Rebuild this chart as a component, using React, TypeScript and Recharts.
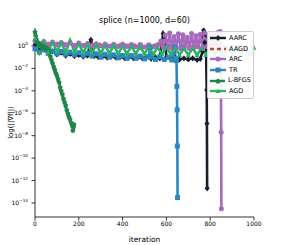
import React from "react";
import { LineChart, Line, XAxis, YAxis, Legend } from "recharts";

// splice (n=1000, d=60) – gradient norm per iteration
const X_TICKS = [0, 200, 400, 600, 800, 1000];
const Y_TICKS = [1, 1e-2, 1e-4, 1e-6, 1e-8, 1e-10, 1e-12, 1e-14];

const IT_AARC = [0, 20, 40, 60, 80, 100, 120, 140, 160, 180, 200, 220, 240, 255, 270, 290, 310, 330, 350, 370, 390, 410, 430, 450, 470, 490, 510, 530, 550, 570, 585, 592, 600, 620, 640, 660, 680, 700, 720, 740, 755, 765, 770, 775, 780, 784, 785, 786];
const AARC = [1.26, 0.4, 0.5, 0.25, 0.32, 0.18, 0.25, 0.14, 0.2, 0.126, 0.16, 0.112, 0.14, 3.5, 0.126, 0.1, 0.126, 0.089, 0.126, 0.089, 0.112, 0.079, 0.112, 0.079, 0.1, 0.079, 0.1, 0.071, 0.1, 0.079, 12.6, 8, 0.1, 0.071, 0.089, 0.063, 0.079, 0.063, 0.079, 0.056, 0.071, 0.32, 25, 2, 10, 1.2e-4, 1.2e-7, 2e-13];

const IT_AAGD = [0, 25, 50, 75, 100, 125, 150, 175, 200, 225, 250, 275, 300, 325, 350, 375, 400, 425, 450, 475, 500, 525, 550, 575, 600, 625, 650, 675, 700, 725, 750, 775, 800, 825, 850, 875, 900, 925, 950, 975, 1000];
const AAGD = [2.5, 1.8, 2.1, 1.6, 1.8, 1.5, 1.65, 1.4, 1.55, 1.35, 1.5, 1.3, 1.45, 1.25, 1.4, 1.22, 1.35, 1.2, 1.3, 1.15, 1.28, 1.12, 1.25, 1.1, 1.2, 1.08, 1.15, 1.05, 1.12, 1.02, 1.08, 1.0, 1.05, 0.98, 1.02, 0.95, 1.0, 0.92, 0.98, 0.9, 0.95];

const IT_ARC = [0, 20, 40, 60, 80, 100, 120, 140, 160, 180, 200, 220, 240, 260, 280, 300, 320, 340, 360, 380, 400, 420, 440, 460, 480, 500, 520, 540, 560, 575, 585, 595, 605, 615, 625, 635, 645, 655, 665, 675, 685, 695, 705, 715, 725, 735, 745, 755, 765, 775, 785, 795, 805, 815, 825, 835, 845, 849, 850, 851];
const ARC = [2.8, 1.6, 2.5, 1.4, 2.2, 1.26, 2.0, 1.26, 1.9, 1.12, 1.8, 1.12, 1.66, 1.0, 1.6, 1.0, 1.5, 0.95, 1.4, 0.89, 1.4, 0.89, 1.32, 0.83, 1.32, 0.79, 1.26, 0.79, 1.26, 2.8, 0.79, 9, 0.7, 14, 0.6, 7, 0.8, 12, 0.6, 10, 0.9, 6, 0.6, 13, 0.7, 8, 0.8, 11, 0.6, 15, 0.9, 9, 1.2, 12, 1.5, 16, 20, 1e-3, 2e-8, 3e-15];

const IT_TR = [0, 20, 40, 60, 80, 100, 120, 140, 160, 180, 200, 220, 240, 260, 280, 300, 320, 340, 360, 380, 400, 420, 440, 460, 480, 500, 520, 525, 530, 550, 570, 590, 610, 625, 638, 642, 646, 648, 649, 650, 651];
const TR = [0.56, 0.28, 0.45, 0.22, 0.35, 0.2, 0.32, 0.18, 0.28, 0.16, 0.25, 0.14, 0.22, 0.126, 0.2, 0.1, 0.18, 0.1, 0.16, 0.089, 0.14, 0.079, 0.14, 0.079, 0.126, 0.071, 0.112, 0.79, 0.1, 0.063, 0.112, 0.063, 0.1, 0.056, 0.79, 0.079, 0.05, 2.5e-4, 2e-6, 1.2e-9, 3e-14];

const IT_LBFGS = [0, 3, 6, 10, 15, 20, 25, 30, 35, 40, 45, 50, 55, 60, 65, 70, 75, 80, 85, 90, 95, 100, 105, 110, 115, 120, 125, 130, 135, 140, 145, 150, 155, 160, 165, 170, 173, 176, 178];
const LBFGS = [18, 8, 4, 2.5, 1.8, 1.2, 1.5, 0.9, 1.1, 0.7, 0.85, 0.6, 0.7, 0.45, 0.3, 0.12, 0.06, 0.03, 0.015, 0.008, 0.004, 0.0025, 0.0012, 6e-4, 2e-4, 1e-4, 5e-5, 2e-5, 1e-5, 5e-6, 2e-6, 1e-6, 5e-7, 3e-7, 1.5e-7, 8e-8, 3e-8, 6e-8, 1e-7];

const IT_AGD = [0, 20, 40, 60, 80, 100, 120, 140, 160, 180, 200, 220, 240, 260, 280, 300, 320, 340, 360, 380, 400, 420, 440, 460, 480, 500, 520, 540, 560, 580, 600, 620, 640, 660, 680, 700, 720, 740, 760, 780, 800, 820, 840, 860, 880, 900, 920, 940, 960, 980, 1000];
const AGD = [5.0, 0.25, 2.5, 0.28, 2.24, 0.32, 2.0, 0.28, 3.2, 0.32, 1.6, 0.25, 1.41, 0.25, 1.26, 0.22, 1.12, 0.22, 1.12, 0.2, 1.0, 0.2, 1.0, 0.2, 0.89, 0.2, 0.89, 0.18, 0.79, 0.18, 0.79, 0.18, 0.71, 0.16, 0.63, 0.16, 0.63, 0.16, 0.63, 0.16, 0.63, 0.17, 0.66, 0.17, 0.68, 0.18, 0.7, 0.18, 0.7, 0.18, 0.71];

const zip = (its: number[], vals: number[]) => its.map((it, i) => ({ it, v: vals[i] }));

type Marker = "diamond" | "none" | "circle" | "square" | "pentagon" | "triangle";

const SERIES = [
  { name: "AARC", color: "#17202a", data: zip(IT_AARC, AARC), marker: "diamond" as Marker, dash: undefined },
  { name: "AAGD", color: "#cb4335", data: zip(IT_AAGD, AAGD), marker: "none" as Marker, dash: "4 3" },
  { name: "ARC", color: "#a569bd", data: zip(IT_ARC, ARC), marker: "circle" as Marker, dash: undefined },
  { name: "TR", color: "#2e86c1", data: zip(IT_TR, TR), marker: "square" as Marker, dash: undefined },
  { name: "L-BFGS", color: "#1e8449", data: zip(IT_LBFGS, LBFGS), marker: "pentagon" as Marker, dash: undefined },
  { name: "AGD", color: "#28b463", data: zip(IT_AGD, AGD), marker: "triangle" as Marker, dash: undefined },
];

const font = "DejaVu Sans";

function markerShape(kind: Marker, cx: number, cy: number, color: string, key?: string | number) {
  const r = 2.5;
  if (kind === "diamond")
    return <path key={key} d={`M${cx},${cy - r - 0.6}L${cx + r},${cy}L${cx},${cy + r + 0.6}L${cx - r},${cy}Z`} fill={color} />;
  if (kind === "circle") return <circle key={key} cx={cx} cy={cy} r={r} fill={color} />;
  if (kind === "square") return <rect key={key} x={cx - r} y={cy - r} width={2 * r} height={2 * r} fill={color} />;
  if (kind === "pentagon")
    return (
      <path key={key} d={`M${cx},${cy - r}L${cx + r},${cy - 0.6}L${cx + 1.5},${cy + r}L${cx - 1.5},${cy + r}L${cx - r},${cy - 0.6}Z`} fill={color} />
    );
  if (kind === "triangle")
    return <path key={key} d={`M${cx},${cy - r}L${cx + r},${cy + r * 0.8}L${cx - r},${cy + r * 0.8}Z`} fill={color} />;
  return <g key={key} />;
}

const YTick = ({ x, y, payload }: any) => {
  const exp = Math.round(Math.log10(payload.value));
  const label = exp < 0 ? "\u2212" + -exp : String(exp);
  return (
    <text x={x - 2.5} y={y + 2} textAnchor="end" fontSize={6} fontFamily={font} fill="#000">
      10
      <tspan dy={-3} fontSize={4.2}>
        {label}
      </tspan>
    </text>
  );
};

const YLabel = ({ viewBox }: any) => {
  const cy = viewBox.y + viewBox.height / 2;
  return (
    <text x={11} y={cy} transform={`rotate(-90 11 ${cy})`} textAnchor="middle" dominantBaseline="central" fontSize={7} fontFamily={font} fill="#000">
      log(||∇f||)
    </text>
  );
};

const LegendBox = () => (
  <div
    style={{
      border: "1px solid #ccc",
      borderRadius: 2,
      background: "rgba(255,255,255,0.9)",
      padding: "1px 2px",
      fontFamily: font,
      fontSize: 6.5,
      lineHeight: "10.6px",
    }}
  >
    {SERIES.map((s) => (
      <div key={s.name} style={{ display: "flex", alignItems: "center", whiteSpace: "nowrap" }}>
        <svg width={16} height={8} style={{ marginRight: 3 }}>
          <line x1={0} y1={4} x2={16} y2={4} stroke={s.color} strokeWidth={2.4} strokeDasharray={s.dash} />
          {markerShape(s.marker, 8, 4, s.color)}
        </svg>
        <span>{s.name}</span>
      </div>
    ))}
  </div>
);

export default function App() {
  return (
    <div style={{ position: "absolute", left: 0, top: 0, width: 283, height: 245, background: "#fff" }}>
      <div
        style={{
          position: "absolute",
          top: 16,
          left: 35,
          width: 219,
          textAlign: "center",
          fontFamily: font,
          fontSize: 8,
        }}
      >
        splice (n=1000, d=60)
      </div>
      <LineChart width={283} height={245} margin={{ top: 28, right: 29, bottom: 0, left: 0 }}>
        <XAxis
          dataKey="it"
          type="number"
          domain={[0, 1000]}
          ticks={X_TICKS}
          allowDuplicatedCategory={false}
          height={28}
          tickSize={3.5}
          tickMargin={1}
          stroke="#333"
          tick={{ fontSize: 6, fontFamily: font, fill: "#000" }}
          label={{ value: "iteration", position: "insideBottom", offset: 3, fontSize: 7.5, fontFamily: font, fill: "#000" }}
        />
        <XAxis xAxisId="top" orientation="top" type="number" domain={[0, 1000]} height={0} tick={false} tickLine={false} stroke="#333" />
        <YAxis
          dataKey="v"
          type="number"
          scale="log"
          domain={[5.6e-16, 40]}
          allowDataOverflow
          ticks={Y_TICKS}
          interval={0}
          width={35}
          tickSize={3.5}
          tickMargin={1}
          stroke="#333"
          tick={<YTick />}
          label={<YLabel />}
        />
        <YAxis yAxisId="right" orientation="right" width={0} tick={false} tickLine={false} stroke="#333" />
        <Legend
          layout="vertical"
          align="center"
          verticalAlign="middle"
          content={<LegendBox />}
          wrapperStyle={{ left: 207, top: 31, width: 47, height: "auto" }}
        />
        {SERIES.map((s) => (
          <Line
            key={s.name}
            data={s.data}
            dataKey="v"
            name={s.name}
            type="linear"
            stroke={s.color}
            strokeWidth={2.6}
            strokeDasharray={s.dash}
            isAnimationActive={false}
            dot={(p: any) => markerShape(s.marker, p.cx, p.cy, s.color, `${s.name}-${p.index}`)}
            activeDot={false}
          />
        ))}
      </LineChart>
    </div>
  );
}
